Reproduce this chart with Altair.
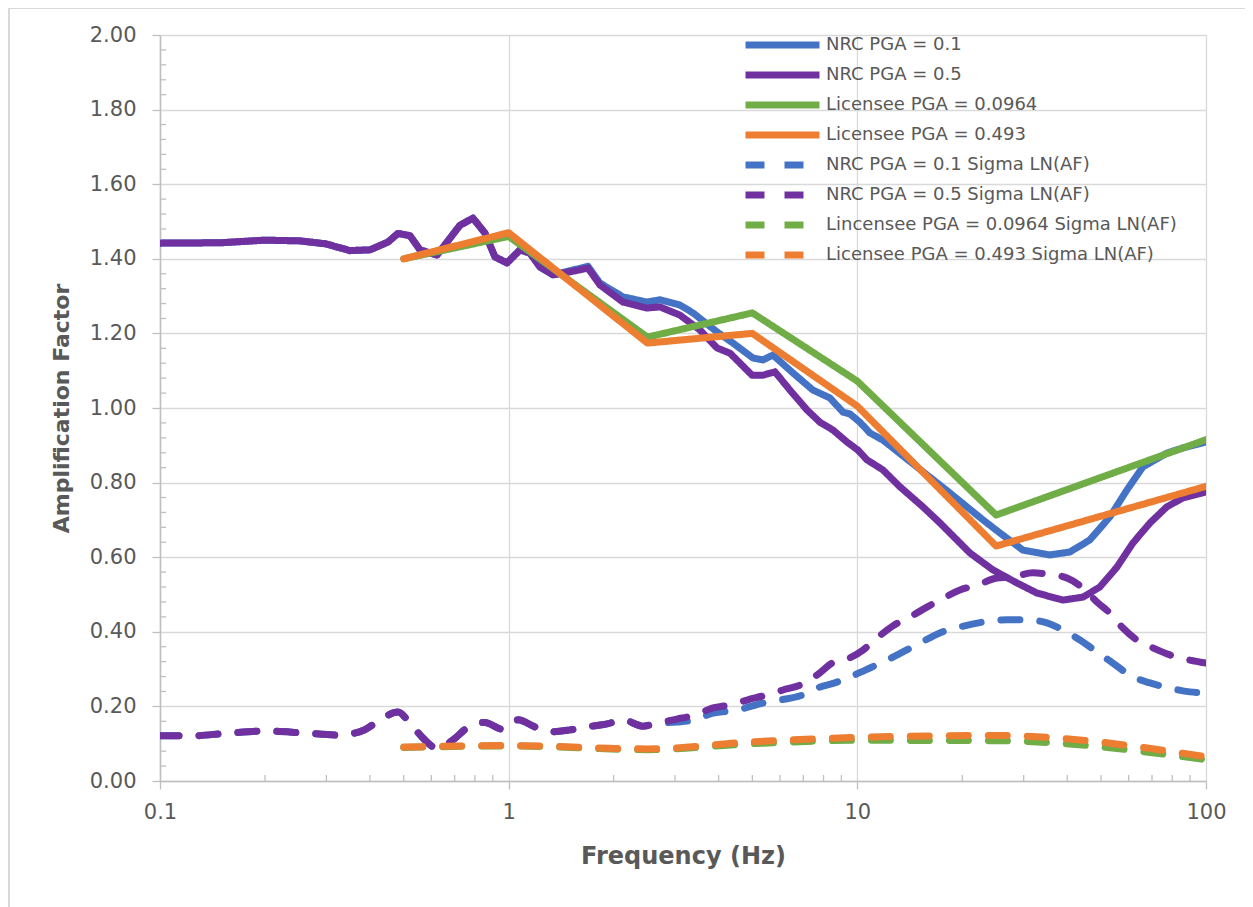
import altair as alt
import pandas as pd

# ---------------- data ----------------
SERIES = [
    "NRC PGA = 0.1",
    "NRC PGA = 0.5",
    "Licensee PGA = 0.0964",
    "Licensee PGA = 0.493",
    "NRC PGA = 0.1 Sigma LN(AF)",
    "NRC PGA = 0.5 Sigma LN(AF)",
    "Lincensee PGA = 0.0964 Sigma LN(AF)",
    "Licensee PGA = 0.493 Sigma LN(AF)",
]
COLORS = ["#4472C4", "#7030A0", "#70AD47", "#ED7D31",
          "#4472C4", "#7030A0", "#70AD47", "#ED7D31"]

nrc01_f = [0.1, 0.1496, 0.2, 0.252, 0.299, 0.3506, 0.4003, 0.4507, 0.4814, 0.521,
           0.5568, 0.6229, 0.7251, 0.79, 0.855, 0.9135, 0.989, 1.078, 1.151, 1.23,
           1.34, 1.5, 1.688, 1.827, 2.127, 2.493, 2.716, 3.099, 3.377, 3.958,
           4.399, 5.02, 5.363, 5.728, 6.536, 7.458, 8.345, 9.093, 9.524, 10.17,
           10.87, 11.84, 14.82, 18.44, 22.93, 25.64, 29.85, 35.66, 40.7, 46.4,
           53.0, 59.3, 65.9, 77.2, 85.8, 100]
nrc01_v = [1.442, 1.443, 1.45, 1.448, 1.44, 1.422, 1.424, 1.445, 1.468, 1.462,
           1.424, 1.41, 1.49, 1.509, 1.469, 1.405, 1.389, 1.424, 1.415, 1.378,
           1.357, 1.368, 1.38, 1.335, 1.298, 1.284, 1.29, 1.276, 1.255, 1.204,
           1.174, 1.134, 1.129, 1.142, 1.094, 1.048, 1.027, 0.989, 0.984, 0.962,
           0.933, 0.914, 0.842, 0.772, 0.70, 0.665, 0.619, 0.606, 0.614, 0.646,
           0.708, 0.78, 0.842, 0.879, 0.893, 0.909]

nrc05_f = [0.1, 0.1496, 0.2, 0.252, 0.299, 0.3506, 0.4003, 0.4507, 0.4814, 0.521,
           0.5568, 0.6229, 0.7251, 0.79, 0.855, 0.9135, 0.989, 1.078, 1.151, 1.23,
           1.34, 1.5, 1.688, 1.827, 2.127, 2.493, 2.716, 3.099, 3.537, 3.958,
           4.313, 4.988, 5.363, 5.804, 6.408, 7.168, 7.808, 8.511, 9.335, 10.04,
           10.66, 11.84, 13.24, 15.42, 17.25, 21.05, 24.48, 28.69, 32.74, 38.87,
           44.4, 49.6, 55.6, 61.7, 69.1, 77.2, 85.8, 100]
nrc05_v = [1.442, 1.443, 1.45, 1.448, 1.44, 1.422, 1.424, 1.445, 1.468, 1.462,
           1.424, 1.41, 1.49, 1.509, 1.469, 1.405, 1.389, 1.424, 1.415, 1.378,
           1.357, 1.365, 1.375, 1.33, 1.284, 1.268, 1.271, 1.249, 1.209, 1.161,
           1.147, 1.088, 1.088, 1.097, 1.048, 0.995, 0.962, 0.941, 0.909, 0.887,
           0.861, 0.834, 0.789, 0.735, 0.692, 0.611, 0.566, 0.531, 0.504, 0.485,
           0.493, 0.52, 0.574, 0.638, 0.692, 0.735, 0.759, 0.775]

lic_f = [0.5, 1, 2.5, 5, 10, 25, 100]
lic0964_v = [1.40, 1.46, 1.19, 1.255, 1.072, 0.713, 0.915]
lic0493_v = [1.40, 1.47, 1.174, 1.20, 1.005, 0.630, 0.79]

sig01_f = [0.1, 0.1235, 0.155, 0.2, 0.257, 0.327, 0.3855, 0.4276, 0.4814, 0.521,
           0.568, 0.6229, 0.6923, 0.7592, 0.855, 0.957, 1.063, 1.19, 1.331, 1.499,
           1.677, 1.914, 2.127, 2.428, 2.663, 3.038, 3.422, 3.854, 4.516, 5.363,
           5.999, 6.982, 7.658, 8.739, 9.524, 10.87, 12.16, 13.51, 15.12, 17.25,
           19.69, 22.93, 26.85, 30.65, 34.97, 38.87, 43.5, 48.66, 54.08, 61.7,
           69.1, 78.79, 89.92, 100]
sig01_v = [0.121, 0.121, 0.128, 0.134, 0.129, 0.123, 0.137, 0.164, 0.185, 0.155,
           0.115, 0.088, 0.11, 0.142, 0.157, 0.139, 0.164, 0.145, 0.132, 0.137,
           0.145, 0.153, 0.164, 0.147, 0.155, 0.158, 0.164, 0.182, 0.19, 0.209,
           0.217, 0.231, 0.249, 0.265, 0.279, 0.303, 0.324, 0.346, 0.37, 0.397,
           0.413, 0.426, 0.432, 0.432, 0.424, 0.405, 0.378, 0.346, 0.316, 0.279,
           0.263, 0.249, 0.239, 0.236]

sig05_f = [0.1, 0.1235, 0.155, 0.2, 0.257, 0.327, 0.3855, 0.4276, 0.4814, 0.521,
           0.568, 0.6229, 0.6923, 0.7592, 0.855, 0.957, 1.063, 1.19, 1.331, 1.499,
           1.677, 1.914, 2.127, 2.428, 2.663, 3.038, 3.422, 3.854, 4.313, 4.826,
           5.506, 6.119, 6.845, 7.658, 8.456, 9.524, 10.38, 11.38, 12.65, 13.97,
           15.83, 17.25, 19.69, 22.03, 25.14, 27.94, 31.88, 34.97, 39.92, 44.4,
           48.66, 53.02, 57.78, 63.37, 70.42, 78.79, 89.92, 100]
sig05_v = [0.121, 0.121, 0.128, 0.134, 0.129, 0.123, 0.137, 0.164, 0.185, 0.155,
           0.115, 0.088, 0.11, 0.142, 0.157, 0.139, 0.164, 0.145, 0.132, 0.137,
           0.145, 0.153, 0.164, 0.147, 0.155, 0.166, 0.177, 0.196, 0.204, 0.217,
           0.231, 0.244, 0.257, 0.284, 0.316, 0.33, 0.351, 0.383, 0.416, 0.437,
           0.466, 0.485, 0.512, 0.525, 0.544, 0.547, 0.558, 0.555, 0.544, 0.517,
           0.48, 0.45, 0.41, 0.378, 0.357, 0.338, 0.324, 0.316]

licsig0964_v = [0.090, 0.094, 0.084, 0.100, 0.109, 0.108, 0.057]
licsig0493_v = [0.091, 0.095, 0.086, 0.105, 0.117, 0.122, 0.065]

y_ticks = [0.0, 0.2, 0.4, 0.6, 0.8, 1.0, 1.2, 1.4, 1.6, 1.8, 2.0]
x_ticks = [0.1, 1, 10, 100]

# ---------------- build table ----------------
pairs = [
    (SERIES[0], nrc01_f, nrc01_v),
    (SERIES[1], nrc05_f, nrc05_v),
    (SERIES[2], lic_f, lic0964_v),
    (SERIES[3], lic_f, lic0493_v),
    (SERIES[4], sig01_f, sig01_v),
    (SERIES[5], sig05_f, sig05_v),
    (SERIES[6], lic_f, licsig0964_v),
    (SERIES[7], lic_f, licsig0493_v),
]
rows = []
for name, fs, vs in pairs:
    for i, (f, v) in enumerate(zip(fs, vs)):
        rows.append({"series": name, "freq": f, "af": v, "idx": i})
df = pd.DataFrame(rows)

W, H = 1046, 746
FONT = "DejaVu Sans"
GRID = "#D9D9D9"
AXC = "#BFBFBF"
TXT = "#595959"

xscale = alt.Scale(type="log", domain=[0.1, 100])
yscale = alt.Scale(domain=[0, 2])
color = alt.Color(
    "series:N",
    scale=alt.Scale(domain=SERIES, range=COLORS),
    legend=alt.Legend(
        title=None, orient="none", legendX=582, legendY=-2,
        symbolType="stroke", symbolSize=74 * 74, symbolStrokeWidth=7,
        labelFont=FONT, labelFontSize=18, labelColor=TXT, labelLimit=600,
        clipHeight=24, rowPadding=6, labelOffset=3, padding=0,
    ),
)
dash = alt.StrokeDash(
    "series:N",
    scale=alt.Scale(domain=SERIES, range=[[1, 0]] * 4 + [[19, 20]] * 4),
    legend=None,
)

common_axis = dict(grid=True, gridColor=GRID, gridWidth=1.3,
                   domainColor=AXC, domainWidth=1.5, tickColor=AXC, tickWidth=1.3,
                   tickSize=8, labelFont=FONT, labelFontSize=21, labelColor=TXT,
                   titleFont=FONT, titleFontWeight="bold", titleColor=TXT)

layers = []
for k, name in enumerate(SERIES):
    interp = "linear" if k < 4 else "monotone"
    layers.append(
        alt.Chart(df)
        .transform_filter(alt.datum.series == name)
        .mark_line(strokeWidth=7, strokeCap="round", strokeJoin="round",
                   interpolate=interp, clip=True)
        .encode(
            x=alt.X("freq:Q", scale=xscale,
                    axis=alt.Axis(values=x_ticks, format="~g", title="Frequency (Hz)",
                                  labelFlush=False, labelPadding=12,
                                  titleFontSize=24, titlePadding=22, **common_axis)),
            y=alt.Y("af:Q", scale=yscale,
                    axis=alt.Axis(values=y_ticks, format=".2f", title="Amplification Factor",
                                  labelPadding=16, titleFontSize=22, titlePadding=16,
                                  **common_axis)),
            color=color,
            strokeDash=dash,
            order="idx:Q",
        )
    )

# minor ticks
y_minor = [round(i * 0.04, 2) for i in range(51) if i % 5 != 0]
x_minor = [m * 10 ** e for e in (-1, 0, 1) for m in range(2, 10)]
ymin_df = pd.DataFrame({"af": y_minor})
xmin_df = pd.DataFrame({"freq": x_minor})
yminor = alt.Chart(ymin_df).mark_rule(color=AXC, strokeWidth=1.3).encode(
    y=alt.Y("af:Q", scale=yscale), x=alt.value(0), x2=alt.value(6))
xminor = alt.Chart(xmin_df).mark_rule(color=AXC, strokeWidth=1.3).encode(
    x=alt.X("freq:Q", scale=xscale), y=alt.value(H - 6), y2=alt.value(H))

frame = alt.Chart(pd.DataFrame({"a": [0]})).mark_rect(
    fill=None, stroke=GRID, strokeWidth=2, clip=False
).encode(x=alt.value(-151), x2=alt.value(1300), y=alt.value(-27), y2=alt.value(1000))

chart = alt.layer(frame, yminor, xminor, *layers).properties(
    width=W, height=H,
    autosize=alt.AutoSizeParams(type="none"),
    padding={"left": 152, "top": 27, "right": 39, "bottom": 126},
).configure_view(stroke=None).configure(background="white")

chart.save("out.html", embed_options={"renderer": "svg", "actions": False})
